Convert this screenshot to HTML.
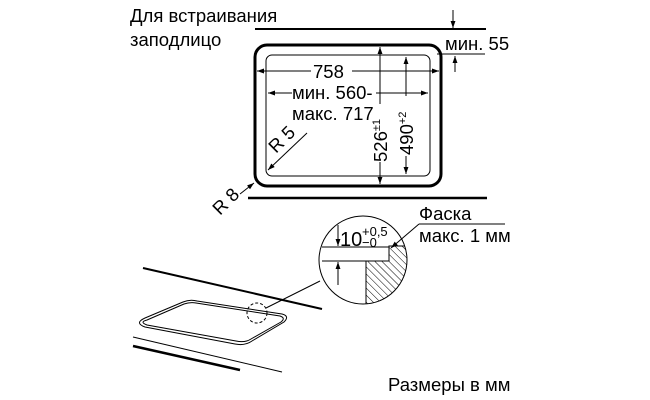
<!DOCTYPE html>
<html><head><meta charset="utf-8"><style>
html,body{margin:0;padding:0;background:#fff;}
svg{display:block;font-family:"Liberation Sans",Arial,sans-serif;}
</style></head><body>
<svg width="650" height="400" viewBox="0 0 650 400" xmlns="http://www.w3.org/2000/svg">
<defs>
<marker id="a" viewBox="0 0 10 10" refX="10" refY="5" markerWidth="7" markerHeight="7" orient="auto-start-reverse"><path d="M0,1.5 L10,5 L0,8.5 z" fill="#000"/></marker>
<pattern id="h" width="5" height="5" patternUnits="userSpaceOnUse" patternTransform="rotate(-45)"><line x1="0" y1="0" x2="0" y2="5" stroke="#000" stroke-width="1"/></pattern>
<clipPath id="c"><circle cx="363" cy="260" r="44"/></clipPath>
</defs>
<g fill="#000" font-size="18.5">
<text x="130" y="22">Для встраивания</text>
<text x="130" y="46">заподлицо</text>
<text x="445" y="50">мин. 55</text>
<text x="419" y="220">Фаска</text>
<text x="419" y="242">макс. 1 мм</text>
<text x="388" y="391">Размеры в мм</text>
</g>
<g stroke="#000" fill="none">
<line x1="255" y1="29" x2="486" y2="29" stroke-width="2"/>
<line x1="453" y1="10" x2="453" y2="28" stroke-width="1" marker-end="url(#a)"/>
<line x1="437" y1="54" x2="485" y2="54" stroke-width="1"/>
<line x1="455" y1="72" x2="455" y2="56" stroke-width="1" marker-end="url(#a)"/>
<rect x="255" y="45" width="186" height="141" rx="12" stroke-width="3"/>
<rect x="266" y="55" width="164" height="121" rx="6" stroke-width="1"/>
<line x1="248" y1="198" x2="487" y2="198" stroke-width="2.5"/>
<line x1="257" y1="71" x2="311" y2="71" stroke-width="1" marker-start="url(#a)"/>
<line x1="352" y1="71" x2="439" y2="71" stroke-width="1" marker-end="url(#a)"/>
<line x1="268" y1="93" x2="292" y2="93" stroke-width="1" marker-start="url(#a)"/>
<line x1="376" y1="93" x2="428" y2="93" stroke-width="1" marker-end="url(#a)"/>
<line x1="380" y1="47" x2="380" y2="184" stroke-width="1" marker-start="url(#a)" marker-end="url(#a)"/>
<line x1="406" y1="57" x2="406" y2="174" stroke-width="1" marker-start="url(#a)" marker-end="url(#a)"/>
<line x1="307" y1="133" x2="268" y2="170" stroke-width="1" marker-end="url(#a)"/>
<line x1="240" y1="194" x2="254" y2="183" stroke-width="1" marker-end="url(#a)"/>
</g>
<g fill="#fff"><rect x="373" y="104" width="14" height="58"/><rect x="399" y="96" width="14" height="60"/></g>
<g fill="#000" font-size="18.5">
<text x="313" y="78">758</text>
<text x="292" y="99">мин. 560-</text>
<text x="292" y="120">макс. 717</text>
<text transform="translate(387,162) rotate(-90)">526<tspan font-size="11" dy="-7">±1</tspan></text>
<text transform="translate(413,155) rotate(-90)">490<tspan font-size="11" dy="-7">+2</tspan></text>
<text transform="translate(276,154) rotate(-45)">R 5</text>
<text transform="translate(220,216) rotate(-45)">R 8</text>
</g>
<g stroke="#000" fill="none">
<line x1="143" y1="268" x2="322" y2="309" stroke-width="2"/>
<line x1="133" y1="337" x2="282" y2="372" stroke-width="1"/>
<line x1="133" y1="346" x2="240" y2="370" stroke-width="2.5"/>
<path d="M145,318 L183,302 Q190,299 197,301 L282,314 Q290,316 284,322 L252,341 Q245,346 235,344 L145,327 Q134,323 145,318 z" stroke-width="1"/>
<path d="M147,320 L184,304 Q190,302 196,303 L280,316 Q286,318 281,322 L251,339 Q245,343 236,341 L147,325 Q139,322 147,320 z" stroke-width="1"/>
<circle cx="257" cy="313" r="10" stroke-width="1" stroke-dasharray="3,2"/>
<line x1="266" y1="308" x2="320" y2="281" stroke-width="1"/>
<g clip-path="url(#c)">
<path d="M389,246 L420,246 L420,320 L366,320 L366,261 L389,261 z" fill="url(#h)" stroke="#000" stroke-width="1"/>
</g>
<circle cx="363" cy="260" r="44" stroke-width="1"/>
<line x1="322" y1="247" x2="389" y2="247" stroke-width="1"/>
<line x1="322" y1="261" x2="366" y2="261" stroke-width="1"/>
<line x1="338" y1="225" x2="338" y2="246" stroke-width="1" marker-end="url(#a)"/>
<line x1="338" y1="285" x2="338" y2="262" stroke-width="1" marker-end="url(#a)"/>
<line x1="419" y1="224" x2="505" y2="224" stroke-width="1"/>
<line x1="419" y1="224" x2="391" y2="248" stroke-width="1" marker-end="url(#a)"/>
</g>
<g fill="#000">
<text x="340" y="246" font-size="20">10</text>
<text x="362" y="236" font-size="13">+0,5</text>
<text x="362" y="247" font-size="13">−0</text>
</g>
</svg>
</body></html>
